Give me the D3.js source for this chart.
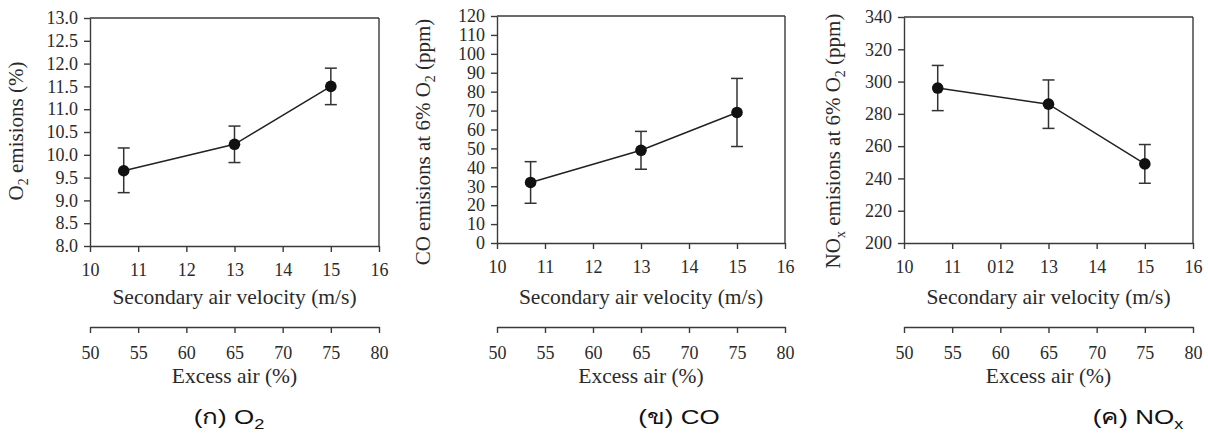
<!DOCTYPE html>
<html>
<head>
<meta charset="utf-8">
<script src="https://cdn.jsdelivr.net/npm/d3@7"></script>
<style>
  html, body { margin: 0; padding: 0; background: #ffffff; }
  svg { display: block; }
  text { font-family: "Liberation Serif", "Times New Roman", serif; fill: #2a2a2a; }
  .cap { font-family: "Liberation Sans", Arial, "Noto Sans", sans-serif; fill: #111; }
</style>
</head>
<body>
<svg id="chart" width="1208" height="433"></svg>
<script>
// ---------- data ----------
const velocityTicks = [10, 11, 12, 13, 14, 15, 16];
const velocityLabelsA = ["10", "11", "12", "13", "14", "15", "16"];
const velocityLabelsC = ["10", "11", "012", "13", "14", "15", "16"];
const excessTicks = [50, 55, 60, 65, 70, 75, 80];
const velocity = [10.7, 13, 15];

const o2Mean = [9.65, 10.23, 11.5];
const o2Low  = [9.17, 9.83, 11.1];
const o2High = [10.15, 10.63, 11.9];
const o2Ticks = [8.0, 8.5, 9.0, 9.5, 10.0, 10.5, 11.0, 11.5, 12.0, 12.5, 13.0];

const coMean = [32, 49, 69];
const coLow  = [21, 39, 51];
const coHigh = [43, 59, 87];
const coTicks = [0, 10, 20, 30, 40, 50, 60, 70, 80, 90, 100, 110, 120];

const noxMean = [296, 286, 249];
const noxLow  = [282, 271, 237];
const noxHigh = [310, 301, 261];
const noxTicks = [200, 220, 240, 260, 280, 300, 320, 340];

// ---------- drawing ----------
const svg = d3.select("#chart");

const panels = [
  { left: 90, right: 379, top: 18, bottom: 246, yDomain: [8, 13], yTicks: o2Ticks, yFmt: d3.format(".1f"),
    mean: o2Mean, low: o2Low, high: o2High, xLabels: velocityLabelsA,
    title: [["O", 0], ["2", 1], [" emisions (%)", 0]], titleX: 23, titleY: 131,
    capParts: [["(ก) O", 0], ["2", 1]], capX: 229 },
  { left: 497, right: 785, top: 16, bottom: 243, yDomain: [0, 120], yTicks: coTicks, yFmt: d3.format("d"),
    mean: coMean, low: coLow, high: coHigh, xLabels: velocityLabelsA,
    title: [["CO emisions at 6% O", 0], ["2", 1], [" (ppm)", 0]], titleX: 430, titleY: 142,
    capParts: [["(ข) CO", 0]], capX: 679 },
  { left: 904, right: 1193, top: 17, bottom: 243, yDomain: [200, 340], yTicks: noxTicks, yFmt: d3.format("d"),
    mean: noxMean, low: noxLow, high: noxHigh, xLabels: velocityLabelsC,
    title: [["NO", 0], ["x", 1], [" emisions at 6% O", 0], ["2", 1], [" (ppm)", 0]], titleX: 840, titleY: 141,
    capParts: [["(ค) NO", 0], ["x", 1]], capX: 1138 }
];

const axisColor = "#3a3a3a";
const tickFont = 18;

panels.forEach(p => {
  const g = svg.append("g");
  const x = d3.scaleLinear().domain([10, 16]).range([p.left, p.right]);
  const x2 = d3.scaleLinear().domain([50, 80]).range([p.left, p.right]);
  const y = d3.scaleLinear().domain(p.yDomain).range([p.bottom, p.top]);

  // frame top & right
  g.append("line").attr("x1", p.left).attr("x2", p.right).attr("y1", p.top).attr("y2", p.top)
    .attr("stroke", axisColor).attr("stroke-width", 1.4);
  g.append("line").attr("x1", p.right).attr("x2", p.right).attr("y1", p.top).attr("y2", p.bottom)
    .attr("stroke", axisColor).attr("stroke-width", 1.4);

  // y axis
  const ya = g.append("g").attr("transform", `translate(${p.left},0)`)
    .call(d3.axisLeft(y).tickValues(p.yTicks).tickFormat(p.yFmt).tickSize(6).tickSizeOuter(0).tickPadding(6));
  // x axis (velocity)
  const xa = g.append("g").attr("transform", `translate(0,${p.bottom})`)
    .call(d3.axisBottom(x).tickValues(velocityTicks).tickFormat((d, i) => p.xLabels[i]).tickSize(6).tickSizeOuter(0).tickPadding(11));
  // second x axis (excess air)
  const x2a = g.append("g").attr("transform", `translate(0,327)`)
    .call(d3.axisBottom(x2).tickValues(excessTicks).tickSize(6).tickSizeOuter(0).tickPadding(13));

  [ya, xa, x2a].forEach(a => {
    a.selectAll("path, line").attr("stroke", axisColor).attr("stroke-width", 1.4);
    a.selectAll("text").attr("fill", "#2a2a2a").style("font-family", "Liberation Serif, serif").style("font-size", tickFont + "px");
  });

  const cx = (p.left + p.right) / 2;
  g.append("text").attr("x", cx).attr("y", 304).attr("text-anchor", "middle")
    .style("font-size", "21.5px").text("Secondary air velocity (m/s)");
  g.append("text").attr("x", cx).attr("y", 383).attr("text-anchor", "middle")
    .style("font-size", "21.5px").text("Excess air (%)");

  // y title (rotated)
  const t = g.append("text").attr("transform", `translate(${p.titleX},${p.titleY}) rotate(-90)`)
    .attr("text-anchor", "middle").style("font-size", "21px");
  p.title.forEach(([s, sub], i) => {
    const prevSub = i > 0 && p.title[i - 1][1];
    const ts = t.append("tspan").text(s).attr("dy", sub ? 5 : (prevSub ? -5 : 0));
    if (sub) ts.style("font-size", "14px");
  });

  // caption
  const c = g.append("text").attr("class", "cap")
    .attr("transform", `translate(${p.capX},424) scale(1.3,1)`)
    .attr("text-anchor", "middle").style("font-size", "20px");
  p.capParts.forEach(([s, sub]) => {
    const ts = c.append("tspan").text(s);
    if (sub) ts.attr("dy", 5).style("font-size", "14px");
  });

  // line
  const pts = velocity.map((v, i) => [v, p.mean[i]]);
  g.append("path").datum(pts)
    .attr("d", d3.line().x(d => x(d[0])).y(d => y(d[1])))
    .attr("fill", "none").attr("stroke", "#222").attr("stroke-width", 1.5);

  // error bars
  velocity.forEach((v, i) => {
    const xv = x(v);
    g.append("line").attr("x1", xv).attr("x2", xv).attr("y1", y(p.low[i])).attr("y2", y(p.high[i]))
      .attr("stroke", "#333").attr("stroke-width", 1.5);
    [p.low[i], p.high[i]].forEach(e => {
      g.append("line").attr("x1", xv - 6).attr("x2", xv + 6).attr("y1", y(e)).attr("y2", y(e))
        .attr("stroke", "#333").attr("stroke-width", 1.5);
    });
  });

  // points
  g.selectAll("circle.pt").data(pts).enter().append("circle")
    .attr("cx", d => x(d[0])).attr("cy", d => y(d[1])).attr("r", 5.8).attr("fill", "#111");
});
</script>
</body>
</html>
